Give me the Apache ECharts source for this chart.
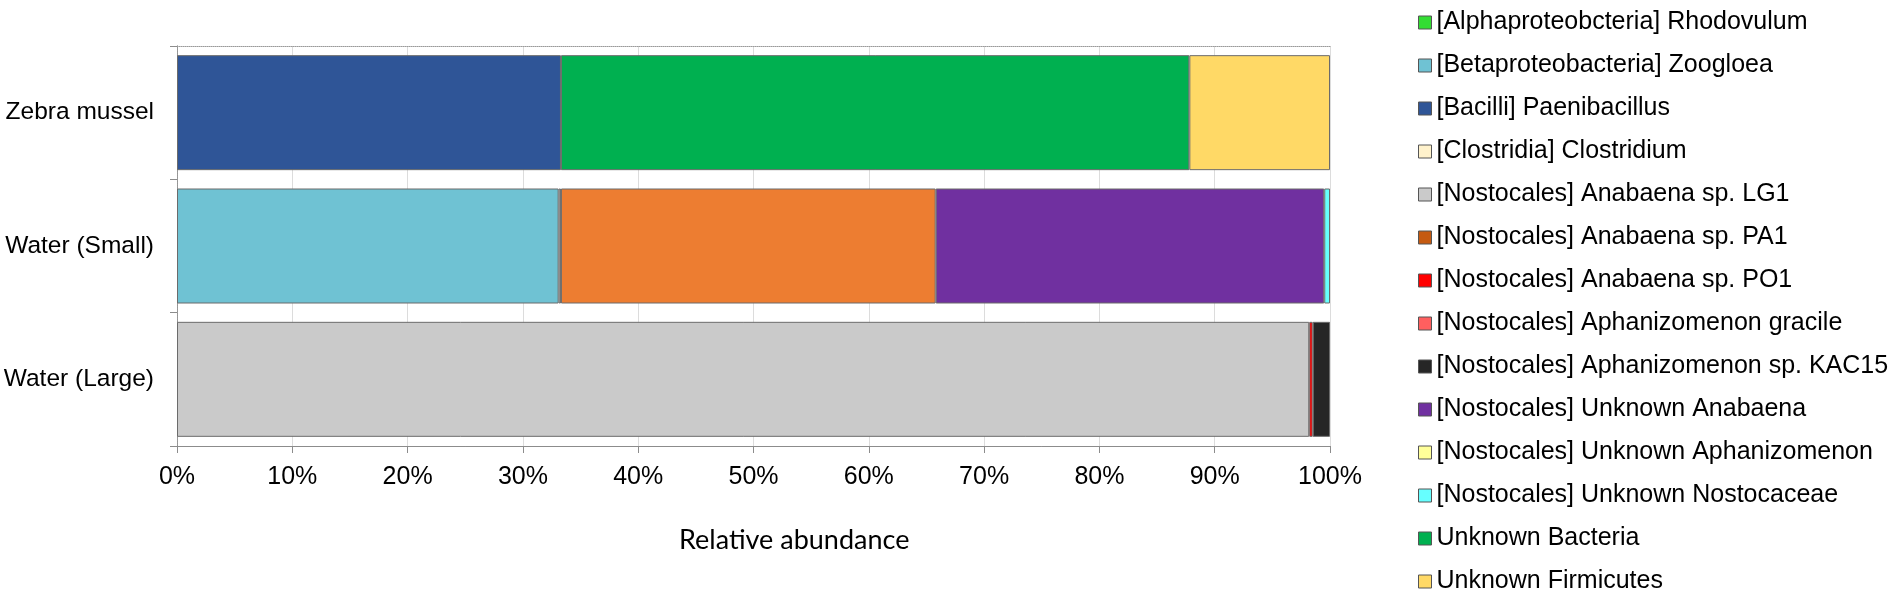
<!DOCTYPE html>
<html>
<head>
<meta charset="utf-8">
<title>Relative abundance</title>
<script src="https://cdn.jsdelivr.net/npm/echarts@6/dist/echarts.min.js"></script>
<style>
    html, body { margin: 0; padding: 0; background: #fff; }
    #chart-abundance { width: 1889px; height: 593px; }
</style>
</head>
<body>
<div id="chart-abundance"></div>
<script>
// samples (top to bottom)
const samples = ['Zebra mussel', 'Water (Small)', 'Water (Large)'];

// taxa, in legend order
const taxa = [
    '[Alphaproteobcteria] Rhodovulum',
    '[Betaproteobacteria] Zoogloea',
    '[Bacilli] Paenibacillus',
    '[Clostridia] Clostridium',
    '[Nostocales] Anabaena sp. LG1',
    '[Nostocales] Anabaena sp. PA1',
    '[Nostocales] Anabaena sp. PO1',
    '[Nostocales] Aphanizomenon gracile',
    '[Nostocales] Aphanizomenon sp. KAC15',
    '[Nostocales] Unknown Anabaena',
    '[Nostocales] Unknown Aphanizomenon',
    '[Nostocales] Unknown Nostocaceae',
    'Unknown Bacteria',
    'Unknown Firmicutes'
];

// relative abundance (%) per sample: [Zebra mussel, Water (Small), Water (Large)]
const rhodovulum = [0, 0, 0];
const zoogloea = [0, 33.1, 0];
const paenibacillus = [33.3, 0, 0];
const clostridium = [0, 0, 0];
const anabaenaLG1 = [0, 0.2, 98.2];
const anabaenaPA1 = [0, 32.5, 0];
const anabaenaPO1 = [0, 0, 0.3];
const aphanGracile = [0, 0, 0];
const aphanKAC15 = [0, 0, 1.5];
const unknownAnabaena = [0, 33.7, 0];
const unknownAphan = [0, 0, 0];
const unknownNostocaceae = [0, 0.5, 0];
const unknownBacteria = [54.5, 0, 0];
const unknownFirmicutes = [12.2, 0, 0];

const xTicks = [0, 10, 20, 30, 40, 50, 60, 70, 80, 90, 100];

document.addEventListener("DOMContentLoaded", function() {

    const chartAbundance = echarts.init(document.getElementById('chart-abundance'));

    const values = [rhodovulum, zoogloea, paenibacillus, clostridium, anabaenaLG1, anabaenaPA1,
        anabaenaPO1, aphanGracile, aphanKAC15, unknownAnabaena, unknownAphan, unknownNostocaceae,
        unknownBacteria, unknownFirmicutes];
    const barColors = ['#33dd33', '#6fc2d3', '#2f5597', '#fff2cc', '#cacaca', '#ed7d31', '#ff0000',
        '#ff5f5f', '#262626', '#7030a0', '#ffff99', '#66ffff', '#00b050', '#ffd966'];
    // legend keys that differ from the bar fill
    const legendColors = barColors.slice();
    legendColors[5] = '#c55a11';

    const font = '"Liberation Sans", Arial, sans-serif';

    function renderChart() {
        const series = taxa.map((name, i) => ({
            name: name,
            type: 'bar',
            stack: 'total',
            barWidth: 115,
            data: values[i].map(v => (v === 0 ? '-' : v)),
            itemStyle: { color: barColors[i], borderColor: '#6b6b6b', borderWidth: 1 },
            emphasis: { disabled: true }
        }));

        const option = {
            animation: false,
            grid: { left: 177, right: 559, top: 46, bottom: 147, outerBoundsMode: 'none' },
            legend: {
                orient: 'vertical',
                left: 1418,
                top: 10,
                height: 590,
                padding: 0,
                itemWidth: 13,
                itemHeight: 13,
                itemGap: 18,
                selectedMode: false,
                icon: 'rect',
                data: taxa.map((name, i) => ({
                    name: name,
                    itemStyle: { color: legendColors[i], borderColor: '#555', borderWidth: 1 }
                })),
                textStyle: { fontFamily: font, fontSize: 25, color: '#000' }
            },
            xAxis: [
                {
                    type: 'value',
                    min: 0,
                    max: 100,
                    interval: 10,
                    axisLine: { show: true, lineStyle: { color: '#8c8c8c' } },
                    axisTick: { show: true, length: 7, lineStyle: { color: '#8c8c8c' } },
                    splitLine: { show: true, lineStyle: { color: '#dcdcdc' } },
                    axisLabel: {
                        formatter: v => (xTicks.includes(v) ? v + '%' : ''),
                        fontFamily: font, fontSize: 25, color: '#000', margin: 19
                    }
                },
                {
                    type: 'value',
                    position: 'top',
                    min: 0,
                    max: 100,
                    axisLine: { show: true, lineStyle: { color: '#9a9a9a', type: 'dotted' } },
                    axisTick: { show: false },
                    axisLabel: { show: false },
                    splitLine: { show: false }
                }
            ],
            yAxis: [
                {
                    type: 'category',
                    inverse: true,
                    data: samples,
                    axisLine: { show: true, lineStyle: { color: '#8c8c8c' } },
                    axisTick: { show: true, length: 7, lineStyle: { color: '#8c8c8c' } },
                    axisLabel: { fontFamily: font, fontSize: 24.5, color: '#000', margin: 23 }
                },
                {
                    type: 'category',
                    position: 'right',
                    inverse: true,
                    data: samples,
                    axisLine: { show: true, lineStyle: { color: '#9a9a9a', type: 'dotted' } },
                    axisTick: { show: false },
                    axisLabel: { show: false }
                }
            ],
            graphic: [{
                type: 'text',
                left: 679,
                top: 527,
                style: {
                    text: 'Relative abundance',
                    font: '27px Lato, "Open Sans", sans-serif',
                    fill: '#000'
                }
            }],
            series: series
        };
        chartAbundance.setOption(option);
    }

    renderChart();

    window.addEventListener('resize', function() {
        chartAbundance.resize();
    });
});
</script>
</body>
</html>
